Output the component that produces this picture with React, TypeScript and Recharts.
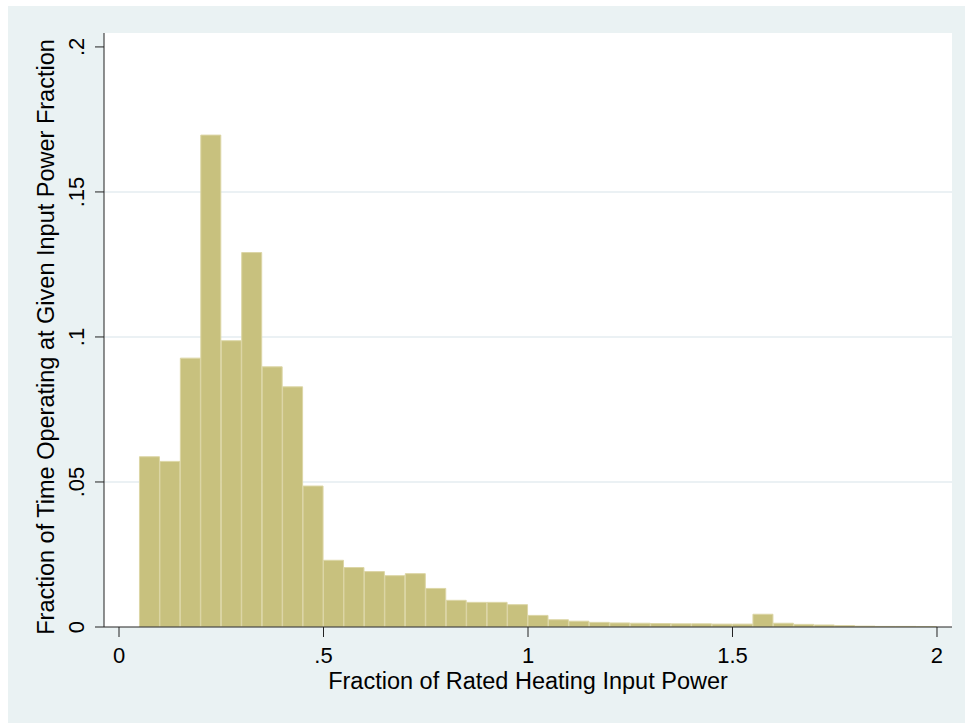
import { ComposedChart, Bar, XAxis, YAxis, CartesianGrid, Label } from 'recharts'

// histogram bins, width .05, starting value of each bin
const binStarts = [
  0.05, 0.1, 0.15, 0.2, 0.25, 0.3, 0.35, 0.4, 0.45, 0.5,
  0.55, 0.6, 0.65, 0.7, 0.75, 0.8, 0.85, 0.9, 0.95, 1.0,
  1.05, 1.1, 1.15, 1.2, 1.25, 1.3, 1.35, 1.4, 1.45, 1.5,
  1.55, 1.6, 1.65, 1.7, 1.75, 1.8, 1.85, 1.9, 1.95,
]
const fractions = [
  0.0587, 0.0571, 0.0927, 0.1696, 0.0987, 0.1291, 0.0897, 0.0828, 0.0486, 0.023,
  0.0205, 0.0191, 0.0177, 0.0184, 0.0133, 0.0092, 0.0085, 0.0085, 0.0077, 0.004,
  0.0025, 0.002, 0.0016, 0.0014, 0.0013, 0.0012, 0.0011, 0.0011, 0.001, 0.001,
  0.0044, 0.0013, 0.0009, 0.0007, 0.0005, 0.0003, 0.0002, 0.0002, 0.0001,
]
const binWidth = 0.05
const xTicks = [0, 0.5, 1, 1.5, 2]
const yTicks = [0, 0.05, 0.1, 0.15, 0.2]
const gridValues = [0.05, 0.1, 0.15]

const data = binStarts.map((s, i) => ({ mid: s + binWidth / 2, frac: fractions[i] }))

const FONT = '"Liberation Sans", Arial, Helvetica, sans-serif'

// stata style: drop the leading zero
const fmt = (v: number) => (v === 0 ? '0' : String(v).replace(/^0\./, '.'))

const XTick = (props: any) => {
  const { x, payload } = props
  return (
    <text x={x} y={657} textAnchor="middle" fontFamily={FONT} fontSize={22} fill="#000">
      {fmt(payload.value)}
    </text>
  )
}

const YTick = (props: any) => {
  const { y, payload } = props
  return (
    <text
      x={76}
      y={y}
      transform={`rotate(-90, 76, ${y})`}
      textAnchor="middle"
      fontFamily={FONT}
      fontSize={22}
      fill="#000"
    >
      {fmt(payload.value)}
    </text>
  )
}

export default function App() {
  return (
    <div style={{ position: 'fixed', left: 8, top: 6, width: 957, height: 717, background: '#EAF2F3' }}>
      <ComposedChart
        width={957}
        height={717}
        data={data}
        margin={{ top: 27, right: 13, left: 0, bottom: 0 }}
        barCategoryGap={0}
        barGap={0}
      >
        <CartesianGrid
          fill="#ffffff"
          vertical={false}
          horizontalValues={gridValues}
          stroke="#E4ECF0"
          strokeWidth={1.5}
        />
        <XAxis
          dataKey="mid"
          type="number"
          domain={[-0.0367, 2.0367]}
          ticks={xTicks}
          allowDataOverflow
          height={96}
          tickSize={10}
          tick={<XTick />}
          stroke="#222"
          tickLine={{ stroke: '#222' }}
        >
          <Label
            content={() => (
              <text x={520} y={683} textAnchor="middle" fontFamily={FONT} fontSize={23.5} fill="#000">
                Fraction of Rated Heating Input Power
              </text>
            )}
          />
        </XAxis>
        <YAxis
          type="number"
          domain={[0, 0.2048]}
          ticks={yTicks}
          allowDataOverflow
          width={96}
          tickSize={9}
          tick={<YTick />}
          stroke="#222"
          tickLine={{ stroke: '#222' }}
        >
          <Label
            content={() => (
              <text
                x={46}
                y={331}
                transform="rotate(-90, 46, 331)"
                textAnchor="middle"
                fontFamily={FONT}
                fontSize={23.5}
                fill="#000"
              >
                Fraction of Time Operating at Given Input Power Fraction
              </text>
            )}
          />
        </YAxis>
        <Bar
          dataKey="frac"
          fill="#C8C17E"
          stroke="#DCD6A6"
          strokeWidth={1}
          isAnimationActive={false}
        />
      </ComposedChart>
    </div>
  )
}
